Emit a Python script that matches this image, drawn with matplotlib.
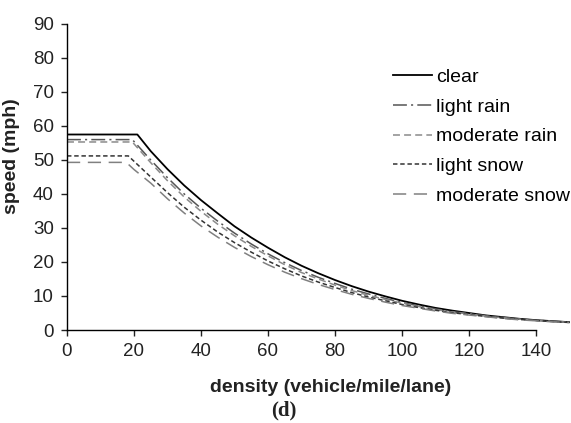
import matplotlib
matplotlib.use("Agg")
import matplotlib.pyplot as plt

plt.rcParams['font.family'] = ['Liberation Sans', 'DejaVu Sans']
plt.rcParams['lines.scale_dashes'] = False

# density (vehicle/mile/lane) sample points and speeds (mph)
k_clear = [0, 21, 25, 30, 35, 40, 45, 50, 55, 60, 65, 70, 75, 80, 85, 90, 95, 100,
           105, 110, 115, 120, 125, 130, 135, 140, 145, 150]
v_clear = [57.5, 57.5, 52.6, 47.3, 42.5, 38.2, 34.3, 30.5, 27.2, 24.2, 21.4, 18.9, 16.7,
           14.7, 12.9, 11.3, 9.9, 8.6, 7.5, 6.5, 5.7, 5.0, 4.3, 3.8, 3.3, 2.9, 2.6, 2.3]

k_lrain = [0, 19.5, 25, 30, 35, 40, 45, 50, 55, 60, 65, 70, 75, 80, 85, 90, 95, 100,
           105, 110, 115, 120, 125, 130, 135, 140, 145, 150]
v_lrain = [56.0, 56.0, 50.0, 44.8, 40.0, 35.8, 32.0, 28.5, 25.3, 22.4, 19.8, 17.5, 15.5,
           13.7, 12.0, 10.6, 9.3, 8.1, 7.1, 6.2, 5.4, 4.8, 4.2, 3.7, 3.2, 2.9, 2.6, 2.3]

k_mrain = [0, 19.5, 25, 30, 35, 40, 45, 50, 55, 60, 65, 70, 75, 80, 85, 90, 95, 100,
           105, 110, 115, 120, 125, 130, 135, 140, 145, 150]
v_mrain = [55.3, 55.3, 49.2, 43.9, 39.1, 34.9, 31.1, 27.7, 24.6, 21.8, 19.2, 16.9, 15.0,
           13.2, 11.6, 10.2, 9.0, 7.9, 6.9, 6.0, 5.3, 4.7, 4.1, 3.6, 3.2, 2.8, 2.5, 2.3]

k_lsnow = [0, 18.3, 25, 30, 35, 40, 45, 50, 55, 60, 65, 70, 75, 80, 85, 90, 95, 100,
           105, 110, 115, 120, 125, 130, 135, 140, 145, 150]
v_lsnow = [51.2, 51.2, 45.0, 40.4, 36.1, 32.3, 28.8, 25.7, 22.9, 20.3, 18.0, 15.9, 14.1,
           12.5, 11.0, 9.7, 8.6, 7.5, 6.6, 5.8, 5.1, 4.5, 4.0, 3.5, 3.1, 2.8, 2.5, 2.2]

k_msnow = [0, 17.7, 20, 25, 30, 35, 40, 45, 50, 55, 60, 65, 70, 75, 80, 85, 90, 95, 100,
           105, 110, 115, 120, 125, 130, 135, 140, 145, 150]
v_msnow = [49.3, 49.3, 47.2, 43.2, 38.6, 34.4, 30.6, 27.3, 24.3, 21.6, 19.2, 17.0, 15.1,
           13.4, 11.9, 10.5, 9.3, 8.2, 7.2, 6.4, 5.6, 4.9, 4.4, 3.9, 3.4, 3.0, 2.7, 2.4, 2.2]

labels = ["clear", "light rain", "moderate rain", "light snow", "moderate snow"]
xticks = [0, 20, 40, 60, 80, 100, 120, 140]
yticks = [0, 10, 20, 30, 40, 50, 60, 70, 80, 90]

fig = plt.figure(figsize=(5.71, 4.23), dpi=100)
ax = fig.add_axes([67/571, 93/423, (569.5-67)/571, (330-24)/423])

ax.plot(k_clear, v_clear, color='black', lw=1.3, ls='-', label=labels[0])
ax.plot(k_lrain, v_lrain, color='#555555', lw=1.1, ls=(0, (10, 3, 1.5, 3)), label=labels[1])
ax.plot(k_mrain, v_mrain, color='#8a8a8a', lw=1.1, ls=(0, (5, 3)), label=labels[2])
ax.plot(k_lsnow, v_lsnow, color='#333333', lw=1.1, ls=(0, (3.2, 2)), label=labels[3])
ax.plot(k_msnow, v_msnow, color='#808080', lw=1.1, ls=(0, (9.5, 5.5)), label=labels[4])

ax.set_xlim(0, 150)
ax.set_ylim(0, 90)
ax.set_xticks(xticks)
ax.set_yticks(yticks)
ax.spines['top'].set_visible(False)
ax.spines['right'].set_visible(False)
ax.spines['bottom'].set_bounds(0, 140)
for s in ('left', 'bottom'):
    ax.spines[s].set_linewidth(1.0)
ax.tick_params(axis='both', direction='out', length=4.5, width=1.0,
               labelsize=13.5, colors='#222222')
ax.tick_params(axis='x', pad=5)
ax.tick_params(axis='y', pad=5)

leg = ax.legend(loc='upper left', bbox_to_anchor=((393-67)/502.5, (330-68.5)/306),
                frameon=False, fontsize=14, handlelength=2.0, handletextpad=0.2,
                labelspacing=0.62, borderaxespad=0, borderpad=0)

fig.text(12/571, 1-156/423, "speed (mph)", rotation=90, ha='center', va='center',
         fontsize=14, fontweight='bold', color='#222222')
fig.text(331/571, 1-387/423, "density (vehicle/mile/lane)", ha='center', va='center',
         fontsize=14, fontweight='bold', color='#222222')
fig.text(284/571, 1-410/423, "(d)", ha='center', va='center', fontsize=15,
         fontweight='bold', family=['Liberation Serif', 'DejaVu Serif'], color='#222222')

fig.savefig("out.png", dpi=100)
